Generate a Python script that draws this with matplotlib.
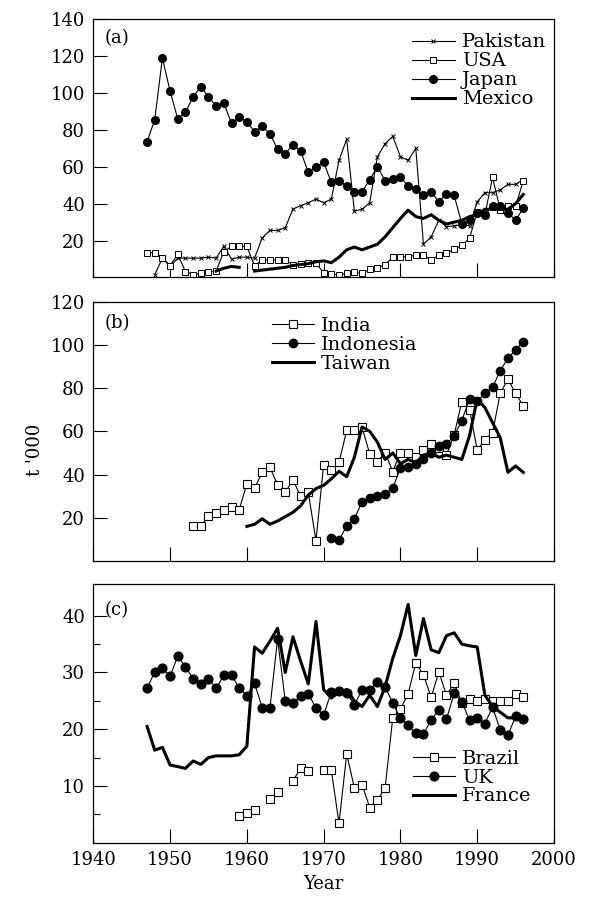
import numpy as np
import matplotlib
matplotlib.use('Agg')
import matplotlib.pyplot as plt

nan = np.nan

# ---- panel (a) ----
years_japan = np.arange(1947, 1997)
japan = [73.5, 85.5, 119, 101, 86, 89.5, 98, 103.5, 98, 93,
         94.5, 83.5, 87, 84.5, 79, 82, 78, 69.5, 67, 72,
         68.5, 57, 60, 62.5, 51.5, 52.5, 49.5, 46.5, 46.5, 53,
         60, 52.5, 53.5, 54.5, 49.5, 48, 44.5, 46.5, 41, 45.5,
         44.5, 29, 31, 35, 34, 38.5, 39, 35, 31, 37.5]

years_pakistan = np.arange(1948, 1997)
pakistan = [1.5, 10.5, 6, 10.5, 10.5, 10.5, 10.5, 11, 10.5, 17,
            10, 11, 11, 10.5, 21.5, 25.5, 25.5, 27, 37, 39,
            40.5, 42.5, 40.5, 42.5, 63.5, 75, 36, 37, 40.5, 65.5,
            72.5, 76.5, 65.5, 63.5, 70, 18, 22, 31, 27.5, 28,
            28.5, 28, 41, 46, 46, 47.5, 50.5, 50.5, 53]

years_usa = np.arange(1947, 1997)
usa = [13.5, 13.5, 10.8, 6.4, 12.6, 3.2, 1.5, 2.3, 2.8, 3.5,
       14, 16.8, 16.8, 16.8, 6.3, 9.5, 9.5, 9.5, 9.5, 7,
       7.2, 7.7, 7.7, 2.5, 1.9, 1.4, 2.2, 2.7, 2.2, 4.5,
       5.4, 6.7, 11.2, 11.2, 11.2, 12.1, 12.1, 9.4, 12.1, 13.3,
       15.2, 17.4, 21.2, 35.7, 34, 54.3, 36.6, 38.5, 38.5, 52.5]

years_mexico = np.arange(1956, 1997)
mexico = [3.5, 5, 6, 5.5, nan, 3.5, 4, 4.5, 5, 5.5,
          6.5, 7, 7.5, 8.5, 9, 8, 11, 15, 16.5, 15,
          16.5, 18, 22, 27, 32, 36.5, 33, 32, 34, 31,
          29, 30, 31, 33, 34, 37, 37, 37, 37, 40, 45]

# ---- panel (b) ----
years_india = np.arange(1953, 1997)
india = [16.3, 16.3, 20.6, 22.2, 23.4, 24.8, 23.7, 35.7, 33.7, 41,
         43.3, 35.3, 31.7, 37.6, 29.9, 31.7, 9.4, 44.5, 41.9, 45.6,
         60.4, 60.4, 61.8, 49.6, 46, 50.2, 41.4, 50.2, 50.2, 48,
         51.4, 54.2, 52.5, 49.1, 58.4, 73.8, 70, 51.4, 56, 59.4,
         77.6, 84.1, 77.6, 71.8]

years_indonesia = np.arange(1971, 1997)
indonesia = [10.5, 9.5, 16.3, 19.4, 27.5, 29.1, 29.9, 30.9, 33.7, 43,
             43.5, 45, 47, 50, 53, 54, 58, 65, 75, 74,
             77.6, 80.4, 88.1, 93.8, 97.7, 101.5]

years_taiwan = np.arange(1960, 1997)
taiwan = [16, 17, 19.5, 17, 18.5, 20.5, 22.5, 25.5, 30.5, 33.5,
          35, 38, 41.5, 39, 48, 62, 60, 55, 47, 50,
          45, 47, 45.5, 49, 50, 48, 49, 48, 47, 58,
          75, 71, 64, 57, 41, 44, 41]

# ---- panel (c) ----
years_brazil = np.arange(1959, 1997)
brazil = [4.7, 5.2, 5.8, nan, 7.7, 9, nan, 10.9, 13.1, 12.6,
          nan, 12.8, 12.8, 3.4, 15.6, 9.7, 10.2, 6.2, 7.5, 9.6,
          22, 23.6, 26.2, 31.7, 29.6, 25.6, 30.1, 26, 28.1, 24.6,
          25.3, 25, 25.3, 25, 25, 25, 26.2, 25.7]

years_uk = np.arange(1947, 1997)
uk = [27.2, 30.1, 30.8, 29.3, 32.9, 31, 28.9, 28, 28.9, 27.2,
      29.5, 29.5, 27.3, 25.9, 28.1, 23.8, 23.7, 35.9, 25, 24.6,
      25.9, 26.2, 23.8, 22.5, 26.6, 26.8, 26.3, 24.3, 26.9, 26.9,
      28.4, 27.5, 24.6, 21.9, 20.7, 19.3, 19.2, 21.6, 23.4, 21.8,
      26.3, 24.8, 21.6, 21.9, 21, 23.9, 19.9, 18.9, 22.3, 21.8]

years_france = np.arange(1947, 1997)
france = [20.5, 16.3, 16.8, 13.7, 13.4, 13.1, 14.4, 13.8, 15, 15.3,
          15.3, 15.3, 15.5, 17, 34.5, 33.4, 35.5, 37.8, 30, 36.3,
          32, 28, 39, 27, 25.5, 26.5, 27, 25, 24, 26,
          24, 27.5, 32.5, 36.5, 42, 33, 39.5, 34, 33.5, 36.5,
          37, 35, 34.7, 34.5, 26, 24, 23, 22, 22, 21.8]

x_ticks = [1940, 1950, 1960, 1970, 1980, 1990, 2000]

THIN = 0.8
THICK = 2.2


def style_axis(ax, ylim, yticks, minor=None, xlabels=False):
    ax.set_xlim(1940, 2000)
    ax.set_ylim(*ylim)
    ax.set_xticks(x_ticks)
    ax.set_yticks(yticks)
    if minor is not None:
        ax.set_yticks(minor, minor=True)
    if not xlabels:
        ax.set_xticklabels([])
    for side in ['top', 'right', 'left', 'bottom']:
        ax.spines[side].set_linewidth(0.9)
    ax.tick_params(which='major', direction='in', length=10, width=0.8,
                   pad=6, labelsize=13, top=False, right=False)
    ax.tick_params(which='minor', direction='in', length=5, width=0.8,
                   top=False, right=False)


def legend(ax, x, y):
    ax.legend(loc='upper left', bbox_to_anchor=(x, y), frameon=False,
              fontsize=14, handlelength=2.2, handletextpad=0.35,
              labelspacing=0.05, borderpad=0, borderaxespad=0, numpoints=1)


def plot_panels():
    plt.rcParams['font.family'] = ['DejaVu Serif']
    fig = plt.figure(figsize=(5.92, 9.0), dpi=100)

    left, width = 0.1576, 0.7782
    ax_a = fig.add_axes([left, 0.6917, width, 0.2869])
    ax_b = fig.add_axes([left, 0.3767, width, 0.2881])
    ax_c = fig.add_axes([left, 0.0637, width, 0.2874])

    # (a)
    ax_a.plot(years_pakistan, pakistan, 'k-', marker='x', markersize=3,
              mew=0.7, lw=THIN, label='Pakistan')
    ax_a.plot(years_usa, usa, 'k-', marker='s', markersize=4.2, mfc='white',
              mew=0.7, lw=THIN, label='USA')
    ax_a.plot(years_japan, japan, 'k-', marker='o', markersize=5.5,
              lw=THIN, label='Japan')
    ax_a.plot(years_mexico, mexico, 'k-', lw=THICK, label='Mexico')
    style_axis(ax_a, (0, 140), [20, 40, 60, 80, 100, 120, 140])
    legend(ax_a, 0.692, 0.945)
    ax_a.text(0.025, 0.928, '(a)', transform=ax_a.transAxes, fontsize=13,
              va='center')

    # (b)
    ax_b.plot(years_india, india, 'k-', marker='s', markersize=5.3,
              mfc='white', mew=0.8, lw=THIN, label='India')
    ax_b.plot(years_indonesia, indonesia, 'k-', marker='o', markersize=6,
              lw=THIN, label='Indonesia')
    ax_b.plot(years_taiwan, taiwan, 'k-', lw=THICK, label='Taiwan')
    style_axis(ax_b, (0, 120), [20, 40, 60, 80, 100, 120])
    legend(ax_b, 0.387, 0.94)
    ax_b.text(0.025, 0.918, '(b)', transform=ax_b.transAxes, fontsize=13,
              va='center')

    # (c)
    ax_c.plot(years_brazil, brazil, 'k-', marker='s', markersize=5.3,
              mfc='white', mew=0.8, lw=THIN, label='Brazil')
    ax_c.plot(years_uk, uk, 'k-', marker='o', markersize=6.3,
              lw=THIN, label='UK')
    ax_c.plot(years_france, france, 'k-', lw=THICK, label='France')
    style_axis(ax_c, (0, 45.6), [10, 20, 30, 40], minor=[5, 15, 25, 35],
               xlabels=True)
    legend(ax_c, 0.693, 0.36)
    ax_c.text(0.025, 0.9, '(c)', transform=ax_c.transAxes, fontsize=13,
              va='center')

    fig.text(0.059, 0.5, "t '000", rotation=90, ha='center', va='center',
             fontsize=13)
    fig.text(0.546, 0.018, 'Year', ha='center', va='center', fontsize=13)

    fig.savefig('out.png', dpi=100)


if __name__ == '__main__':
    plot_panels()
